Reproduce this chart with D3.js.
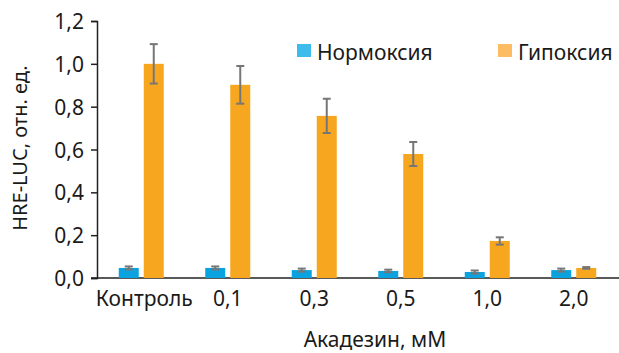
<!DOCTYPE html>
<html>
<head>
<meta charset="utf-8">
<script src="https://cdn.jsdelivr.net/npm/d3@7"></script>
<style>
  body { margin: 0; background: #fff; }
  text { font-family: "Noto Sans", sans-serif; fill: #1a1a1a; }
</style>
</head>
<body>
<div id="chart"></div>
<script>
// Concentrations of akadesine (x axis)
var categories = ['Контроль', '0,1', '0,3', '0,5', '1,0', '2,0'];
var seriesNames = ['Нормоксия', 'Гипоксия'];

// HRE-LUC, relative units
var normoxia = [0.047, 0.047, 0.037, 0.033, 0.028, 0.037];
var normoxiaErr = [0.007, 0.007, 0.007, 0.006, 0.007, 0.007];
var hypoxia = [1.0, 0.902, 0.757, 0.579, 0.173, 0.047];
var hypoxiaErr = [0.092, 0.088, 0.08, 0.056, 0.017, 0.004];

var yTicks = [0, 0.2, 0.4, 0.6, 0.8, 1.0, 1.2];

var width = 619, height = 353;
var barColors = ['#0aa3e0', '#f6a61f'];
var legendColors = ['#3dbbea', '#fcbd62'];

var svg = d3.select('#chart').append('svg')
            .attr('width', width)
            .attr('height', height);

var x0 = d3.scaleBand().domain(categories).range([98, 617]).padding(0);
var bw = x0.bandwidth();
var x1 = d3.scaleBand().domain(seriesNames)
           .range([bw / 2 - 22.5, bw / 2 + 22.5]).paddingInner(0.2);
var y = d3.scaleLinear().domain([0, 1.2]).range([278, 21]);

var fmt = function(d) { return d3.format('.1f')(d).replace('.', ','); };

// y axis
var yAxis = svg.append('g').attr('transform', 'translate(97,0)')
  .call(d3.axisLeft(y).tickValues(yTicks).tickSize(6).tickPadding(7).tickFormat(fmt));
yAxis.select('.domain').attr('stroke', '#222').attr('stroke-width', 1.5);
yAxis.selectAll('.tick line').attr('stroke', '#222').attr('stroke-width', 1.5);
yAxis.selectAll('.tick text').style('font-size', '21px').attr('fill', '#1a1a1a')
     .attr('dy', '0.36em');

// x axis baseline (no ticks)
var xAxis = svg.append('g').attr('transform', 'translate(0,' + y(0) + ')')
  .call(d3.axisBottom(x0).tickSize(0).tickPadding(13));
xAxis.select('.domain').attr('d', 'M91,0H619').attr('stroke', '#222').attr('stroke-width', 1.5);
xAxis.selectAll('.tick text').style('font-size', '21px').attr('fill', '#1a1a1a');
xAxis.selectAll('.tick').filter(function(d, i) { return i === 0; })
  .select('text').attr('dx', 3);

var data = categories.map(function(c, i) {
  return [
    { cat: c, s: seriesNames[0], v: normoxia[i], e: normoxiaErr[i], k: 0 },
    { cat: c, s: seriesNames[1], v: hypoxia[i], e: hypoxiaErr[i], k: 1 }
  ];
});

var groups = svg.append('g').selectAll('g.group').data(data).enter()
  .append('g').attr('class', 'group')
  .attr('transform', function(d) { return 'translate(' + x0(d[0].cat) + ',0)'; });

groups.selectAll('rect').data(function(d) { return d; }).enter()
  .append('rect')
  .attr('x', function(d) { return x1(d.s); })
  .attr('y', function(d) { return y(d.v); })
  .attr('width', x1.bandwidth())
  .attr('height', function(d) { return y(0) - y(d.v); })
  .attr('fill', function(d) { return barColors[d.k]; });

// error bars
var errs = groups.selectAll('g.err').data(function(d) { return d; }).enter()
  .append('g').attr('class', 'err')
  .attr('stroke', '#767676').attr('stroke-width', 2);
errs.append('line')
  .attr('x1', function(d) { return x1(d.s) + x1.bandwidth() / 2; })
  .attr('x2', function(d) { return x1(d.s) + x1.bandwidth() / 2; })
  .attr('y1', function(d) { return y(d.v + d.e); })
  .attr('y2', function(d) { return y(d.v - d.e); });
[1, -1].forEach(function(sign) {
  errs.append('line')
    .attr('x1', function(d) { return x1(d.s) + x1.bandwidth() / 2 - 4; })
    .attr('x2', function(d) { return x1(d.s) + x1.bandwidth() / 2 + 4; })
    .attr('y1', function(d) { return y(d.v + sign * d.e); })
    .attr('y2', function(d) { return y(d.v + sign * d.e); });
});

// legend
var legendX = [297, 498];
var legend = svg.append('g').selectAll('g').data(seriesNames).enter()
  .append('g').attr('transform', function(d, i) { return 'translate(' + legendX[i] + ',44)'; });
legend.append('rect').attr('width', 14).attr('height', 13)
  .attr('fill', function(d, i) { return legendColors[i]; });
legend.append('text').attr('x', 20).attr('y', 15.5)
  .style('font-size', '21px').text(function(d) { return d; });

// axis titles
svg.append('text').attr('x', 375).attr('y', 347).attr('text-anchor', 'middle')
  .style('font-size', '21px').text('Акадезин, мМ');
svg.append('text').attr('transform', 'translate(27,148) rotate(-90)')
  .attr('text-anchor', 'middle').style('font-size', '20px').text('HRE-LUC, отн. ед.');
</script>
</body>
</html>
